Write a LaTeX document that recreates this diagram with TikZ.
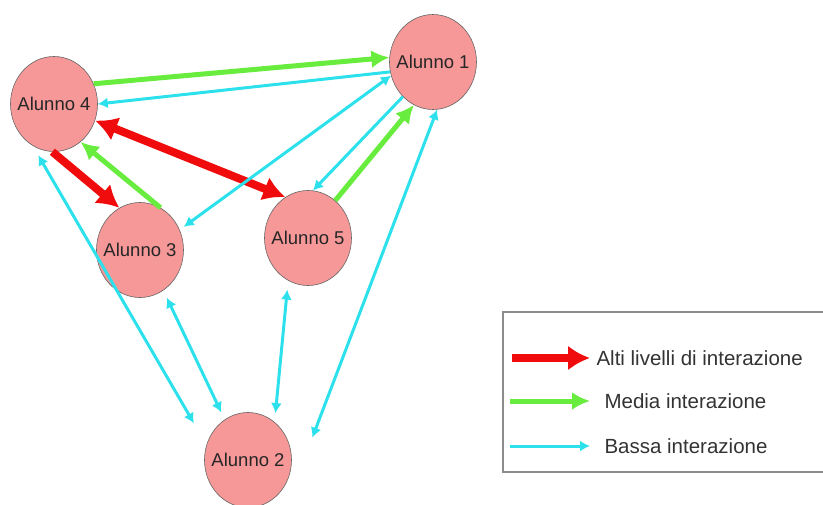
\documentclass[tikz,border=0pt]{standalone}
\usepackage{fontspec}
\setmainfont{Liberation Sans}
\usepackage{xcolor}
\usepackage{tikz}
\usetikzlibrary{positioning,arrows.meta,shapes.geometric,calc}

\definecolor{studentpink}{RGB}{246,152,152}
\definecolor{highred}{RGB}{240,12,12}
\definecolor{mediumgreen}{RGB}{104,236,62}
\definecolor{lowcyan}{RGB}{44,224,236}

\begin{document}
\begin{tikzpicture}[
x=1pt,
y=1pt,
on grid,
student/.style={
ellipse,
draw=black!60,
line width=0.6pt,
fill=studentpink,
minimum width=87pt,
minimum height=95pt,
inner xsep=-8pt,
inner ysep=0pt,
text=black!85,
font=\fontsize{18.5}{20}\selectfont
},
high/.style={
draw=highred,
line width=8pt,
>={Latex[length=22pt,width=25pt]}
},
medium/.style={
draw=mediumgreen,
line width=5pt,
>={Latex[length=18pt,width=18pt]}
},
low/.style={
draw=lowcyan,
line width=3pt,
>={Latex[length=10pt,width=11pt]}
},
legendtext/.style={
anchor=west,
text=black!80,
font=\fontsize{20.5}{22}\selectfont
}
]

\useasboundingbox (0,0) rectangle (823,-504);

%%%%%%%%%%%%%%%%%%%%%%%%%%%%%%%%%%%%%%%%%%%%%
% Students
%%%%%%%%%%%%%%%%%%%%%%%%%%%%%%%%%%%%%%%%%%%%%

\node[student] (a4) at (54,-104)
{Alunno 4};

\node[student, above right=42pt and 379pt of a4] (a1)
{Alunno 1};

\node[student, below right=146pt and 86pt of a4] (a3)
{Alunno 3};

\node[student, below right=134pt and 254pt of a4] (a5)
{Alunno 5};

\node[student, below right=356pt and 194pt of a4] (a2)
{Alunno 2};

%%%%%%%%%%%%%%%%%%%%%%%%%%%%%%%%%%%%%%%%%%%%%
% Interactions
%%%%%%%%%%%%%%%%%%%%%%%%%%%%%%%%%%%%%%%%%%%%%

\draw[medium,->] (a4.27)--(a1.174);

\draw[low,->] (a1.193)--(a4.0);

\draw[high,->] (a4.268)--(a3.116);

\draw[medium,->] (a3.64)--(a4.305);

\draw[high,<->] (a4.338)--(a5.119);

\draw[low,<->,shorten <=5pt] (a3.27)--(a1.198);

\draw[low,->] (a1.229)--(a5.84);

\draw[medium,->] (a5.54)--(a1.246);

\draw[low,<->,shorten >=24pt] (a1.275)--($(a2.east)+(12,0)$);

\draw[low,<->,shorten <=11pt,shorten >=25pt] (a4.243)--(a2.160);

\draw[low,<->,shorten <=8pt,shorten >=8pt] (a3.300)--(a2.120);

\draw[low,<->,shorten <=9pt,shorten >=9pt] (a5.245)--(a2.55);

%%%%%%%%%%%%%%%%%%%%%%%%%%%%%%%%%%%%%%%%%%%%%
% Legend
%%%%%%%%%%%%%%%%%%%%%%%%%%%%%%%%%%%%%%%%%%%%%

\draw[black!45, line width=1.2pt] (823,-312)--(503,-312)--(503,-472)--(823,-472);

\node[legendtext] (khigh) at (593,-358)
{Alti livelli di interazione};

\node[legendtext] (kmedium) at (601,-401)
{Media interazione};

\node[legendtext] (klow) at (601,-446)
{Bassa interazione};

\coordinate (shigh) at (512,-358);
\coordinate (smedium) at (510,-401);
\coordinate (slow) at (510,-446);

\draw[high,->,shorten >=3pt] (shigh)--(khigh.west);

\draw[medium,->,shorten >=11pt] (smedium)--(kmedium.west);

\draw[low,->,shorten >=11pt] (slow)--(klow.west);

\end{tikzpicture}
\end{document}
